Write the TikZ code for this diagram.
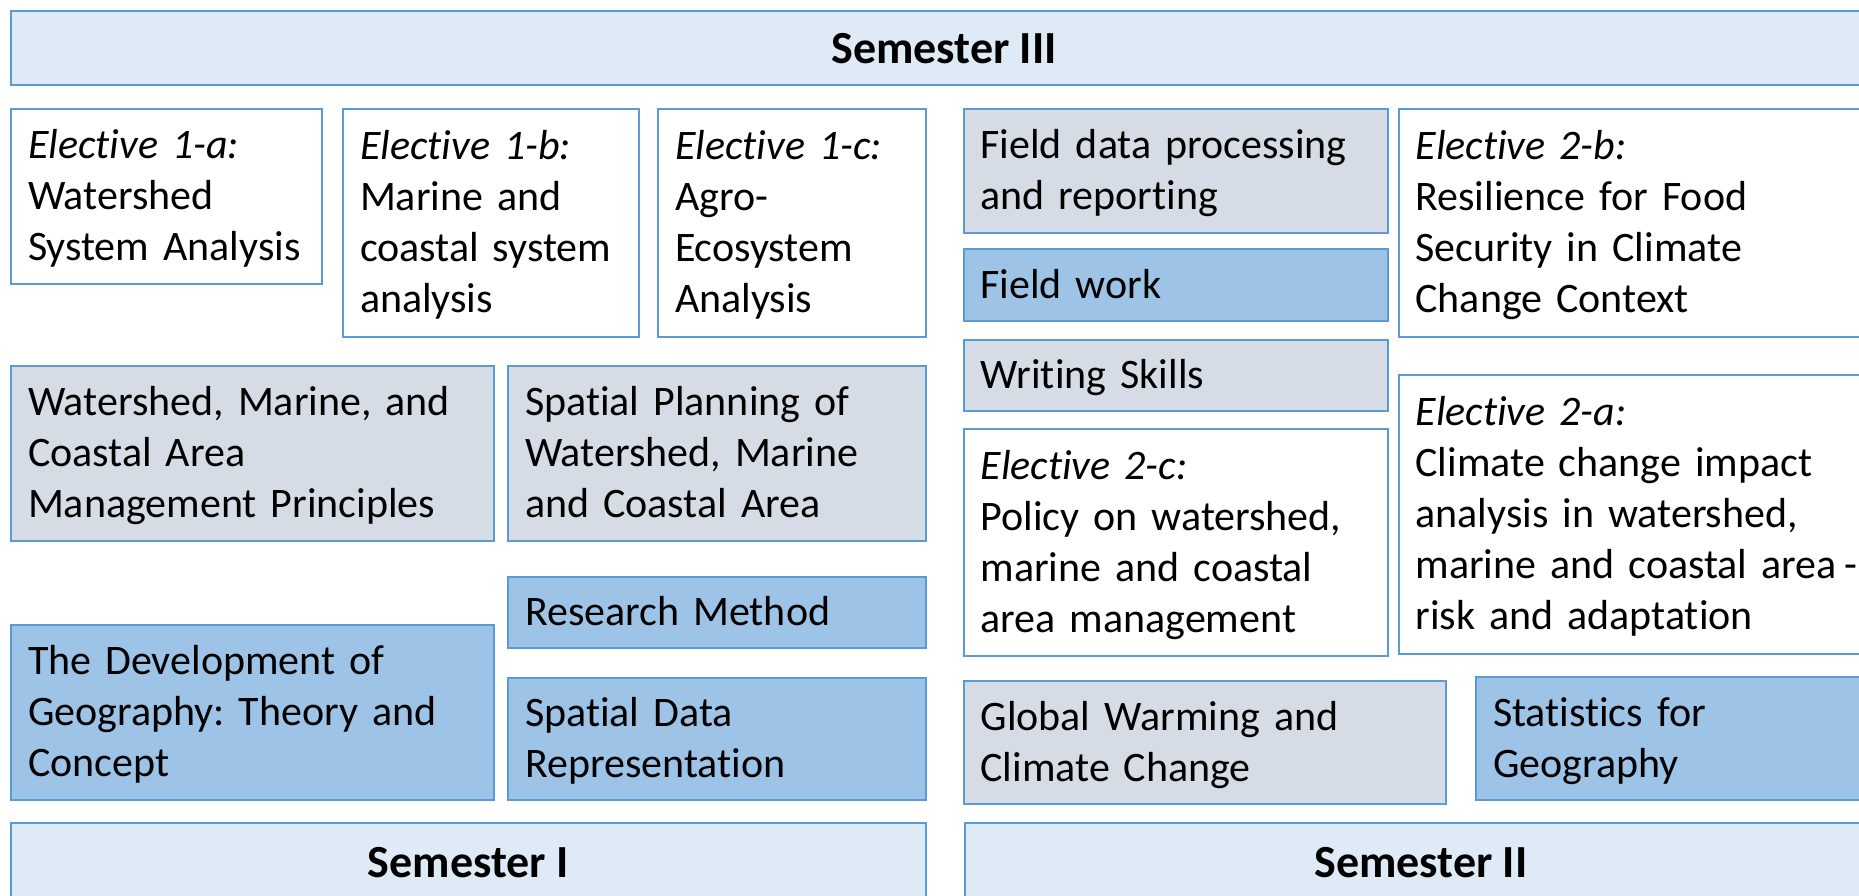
\documentclass[tikz,border=0pt]{standalone}
\usepackage{fontspec}
\setmainfont{Carlito}[Ligatures={NoCommon,NoContextual}]
\frenchspacing
\definecolor{bord}{HTML}{5B9BD5}
\definecolor{lightbar}{HTML}{DEEBF7}
\definecolor{greybox}{HTML}{D6DCE5}
\definecolor{bluebox}{HTML}{9DC3E6}
\newcommand\bst{\rule[-0.245\baselineskip]{0pt}{\baselineskip}}
\newcommand\cbox[7]{%
  \pgfmathsetmacro\bw{#5-#3}\pgfmathsetmacro\bh{#6-#4}\pgfmathsetmacro\tw{#5-#3-34}%
  \node[#2, minimum width=\bw pt, minimum height=\bh pt, text width=\tw pt, anchor=north west] (#1) at (#3pt,-#4pt) {#7};}
\newcommand\cbar[8]{%
  \pgfmathsetmacro\bw{#4-#2}\pgfmathsetmacro\bh{#5-#3}%
  \node[bar, minimum width=\bw pt, minimum height=\bh pt, text height=#6pt, text depth=#7pt, anchor=north west] (#1) at (#2pt,-#3pt) {#8};}
\tikzset{
  course/.style={draw=bord, line width=2pt, rectangle, inner xsep=17pt, inner ysep=0pt, align=left, font=\fontsize{42}{51}\selectfont\frenchspacing},
  elect/.style={course, fill=white},
  grey/.style={course, fill=greybox},
  blue/.style={course, fill=bluebox},
  bar/.style={draw=bord, line width=2pt, rectangle, fill=lightbar, inner sep=0pt, font=\fontsize{46}{55}\selectfont\bfseries}
}
\begin{document}
\begin{tikzpicture}
\useasboundingbox (0,0) rectangle (1859pt,-895pt);
\clip (0,0) rectangle (1859pt,-895pt);
% Semester III
\cbar{semIII}{10}{10}{1876}{84}{40}{10}{Semester III}
\cbox{e1a}{elect}{10}{108}{321}{283}{\bst\textit{Elective 1-a:}\\Watershed\\System Analysis\bst}
\cbox{e1b}{elect}{342}{108}{638}{336}{\bst\textit{Elective 1-b:}\\Marine and\\coastal system\\analysis\bst}
\cbox{e1c}{elect}{657}{108}{924.5}{336}{\bst\textit{Elective 1-c:}\\Agro-\\Ecosystem\\Analysis\bst}
\cbox{fdp}{grey}{962.5}{108}{1387}{232}{\bst Field data processing\\and reporting\bst}
\cbox{fw}{blue}{962.5}{248}{1387}{320}{\bst Field work\bst}
\cbox{ws}{grey}{962.5}{339}{1387}{410}{\bst Writing Skills\bst}
\cbox{e2b}{elect}{1397.5}{108}{1880}{336}{\bst\textit{Elective 2-b:}\\Resilience for Food\\Security in Climate\\Change Context\bst}
\cbox{e2c}{elect}{962.5}{428}{1387}{655}{\bst\textit{Elective 2-c:}\\Policy on watershed,\\marine and coastal\\area management\bst}
\cbox{e2a}{elect}{1397.5}{374}{1880}{653}{\bst\textit{Elective 2-a:}\\Climate change impact\\analysis in watershed,\\marine and coastal area\hspace{-6pt} -\\risk and adaptation\bst}
% Semester I
\cbox{wmc}{grey}{10}{365}{493}{540}{\bst Watershed, Marine, and\\Coastal Area\\Management Principles\bst}
\cbox{spw}{grey}{507}{365}{924.5}{540}{\bst Spatial Planning of\\Watershed, Marine\\and Coastal Area\bst}
\cbox{rm}{blue}{507}{576}{924.5}{647}{\bst Research Method\bst}
\cbox{dev}{blue}{10}{624}{493}{799}{\bst The Development of\\Geography: Theory and\\Concept\bst}
\cbox{sdr}{blue}{507}{677}{924.5}{799}{\bst Spatial Data\\Representation\bst}
% Semester II
\cbox{gw}{grey}{962.5}{680}{1445}{803}{\bst Global Warming and\\Climate Change\bst}
\cbox{sg}{blue}{1475}{676}{1880}{799}{\bst Statistics for\\Geography\bst}
\cbar{semI}{10}{822}{924.5}{942}{30}{42}{Semester I}
\cbar{semII}{964}{822}{1876}{942}{30}{42}{Semester II}
\end{tikzpicture}
\end{document}
